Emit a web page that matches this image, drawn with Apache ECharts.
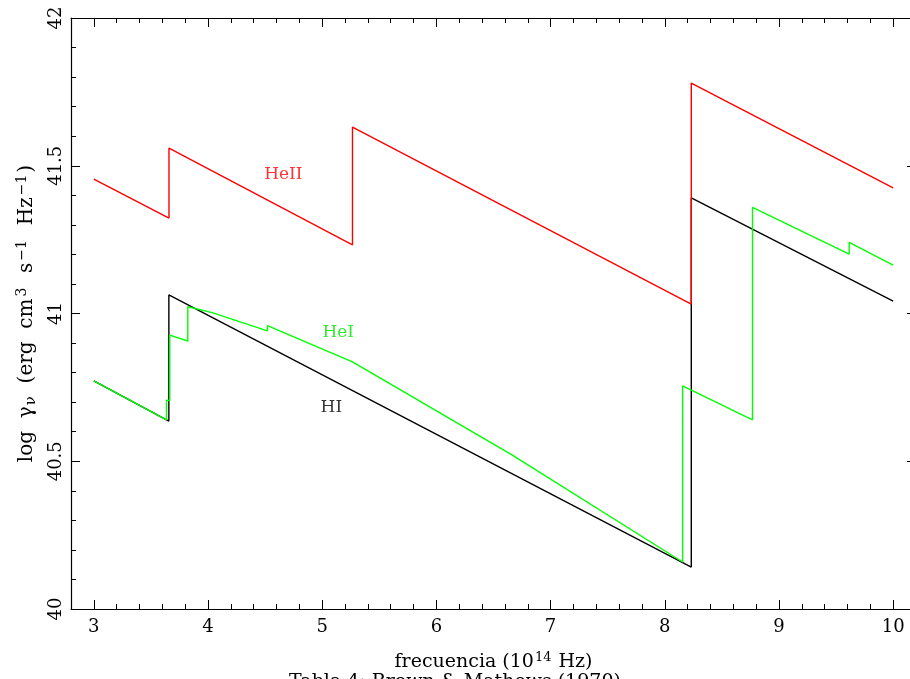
<!DOCTYPE html>
<html>
<head>
<meta charset="utf-8">
<script src="https://cdn.jsdelivr.net/npm/echarts@6/dist/echarts.min.js"></script>
<style>html,body{margin:0;padding:0;background:#fff}#c{width:910px;height:679px}</style>
</head>
<body>
<div id="c"></div>
<script>
// HI (black)
const hiX = [3, 3.657, 3.657, 8.232, 8.232, 10];
const hiY = [40.772, 40.636, 41.063, 40.142, 41.391, 41.042];
// HeI (green)
const heiX = [3, 3.636, 3.636, 3.665, 3.665, 3.823, 3.823, 4.036, 4.036, 4.52, 4.52, 5.265, 6.665, 8.156, 8.156, 8.768, 8.768, 9.615, 9.615, 10];
const heiY = [40.772, 40.640, 40.707, 40.705, 40.927, 40.907, 41.023, 41.003, 41.008, 40.941, 40.959, 40.836, 40.521, 40.159, 40.755, 40.640, 41.359, 41.201, 41.241, 41.164];
// HeII (red)
const heiiX = [3, 3.658, 3.658, 5.265, 5.265, 8.232, 8.232, 10];
const heiiY = [41.455, 41.323, 41.560, 41.232, 41.631, 41.032, 41.780, 41.425];

const xTicks = [3, 4, 5, 6, 7, 8, 9, 10];
const xMin = 2.8, xMax = 10.2;
const yMin = 40, yMax = 42;

const labelNames = ['HeII', 'HeI', 'HI'];
const labelX = [4.66, 5.14, 5.08];
const labelY = [41.469, 40.934, 40.68];
const labelColors = ['#ff0000', '#00e600', '#000000'];

const xMinor = [];
for (let i = 0; i <= 37; i++) xMinor.push(Math.round((xMin + i * 0.2) * 10) / 10);

const zip = (xs, ys) => xs.map((x, i) => [x, ys[i]]);
const FONT = 'DejaVu Serif';

const chart = echarts.init(document.getElementById('c'), null, {renderer: 'canvas'});
const lineStyle = (c) => ({color: c, width: 1.4});
const axisLine = {show: true, lineStyle: {color: '#000', width: 1.2}};

function xAxisDef(pos, major, withLabels) {
  return {
    type: 'value', min: xMin, max: xMax, position: pos, gridIndex: 0,
    axisLine: major ? axisLine : {show: false},
    axisTick: {show: true, inside: true, length: major ? 9 : 5, customValues: major ? xTicks : xMinor,
      lineStyle: {color: '#000', width: 1}},
    axisLabel: withLabels ? {show: true, customValues: xTicks, margin: 9, color: '#000', fontFamily: FONT, fontSize: 18} : {show: false},
    splitLine: {show: false},
    name: withLabels ? '{n|frecuencia (10}{s|14}{n| Hz)}' : '',
    nameLocation: 'middle', nameGap: 42,
    nameTextStyle: {rich: {
      n: {fontFamily: FONT, fontSize: 19, color: '#000'},
      s: {fontFamily: FONT, fontSize: 13, color: '#000', verticalAlign: 'top', padding: [0, 1, 10, 1]}
    }}
  };
}

function yAxisDef(pos, withLabels) {
  return {
    type: 'value', min: yMin, max: yMax, interval: 0.5, position: pos,
    axisLine: axisLine,
    axisTick: {show: true, inside: true, length: 9, lineStyle: {color: '#000', width: 1}},
    minorTick: {show: true, splitNumber: 5, length: 5, lineStyle: {color: '#000', width: 1}},
    axisLabel: withLabels ? {show: true, rotate: 90, margin: 6, color: '#000', fontFamily: FONT, fontSize: 18} : {show: false},
    splitLine: {show: false},
    name: withLabels ? '{n|log  γ}{b|ν}{n|  (erg  cm}{s|3}{n|  s}{s|−1}{n|  Hz}{s|−1}{n|)}' : '',
    nameLocation: 'middle', nameGap: 31,
    nameTextStyle: {rich: {
      n: {fontFamily: FONT, fontSize: 20, color: '#000'},
      s: {fontFamily: FONT, fontSize: 14, color: '#000', verticalAlign: 'top', padding: [0, 2, 10, 2]},
      b: {fontFamily: FONT, fontSize: 15, color: '#000', verticalAlign: 'bottom', padding: [8, 0, 0, 1]}
    }}
  };
}

chart.setOption({
  animation: false,
  backgroundColor: '#fff',
  grid: {left: 71, width: 845, top: 18, height: 591, outerBoundsMode: 'none', containLabel: false},
  xAxis: [
    xAxisDef('bottom', true, true),
    xAxisDef('bottom', false, false),
    xAxisDef('top', true, false),
    xAxisDef('top', false, false)
  ],
  yAxis: [yAxisDef('left', true), yAxisDef('right', false)],
  series: [
    {type: 'line', name: 'HI', data: zip(hiX, hiY), showSymbol: false, lineStyle: lineStyle('#000000'), z: 2},
    {type: 'line', name: 'HeI', data: zip(heiX, heiY), showSymbol: false, lineStyle: lineStyle('#00ff00'), z: 3},
    {type: 'line', name: 'HeII', data: zip(heiiX, heiiY), showSymbol: false, lineStyle: lineStyle('#ff0000'), z: 4},
    {type: 'scatter', name: 'labels', symbolSize: 0, z: 5,
      data: labelNames.map((n, i) => ({value: [labelX[i], labelY[i]], name: n,
        label: {show: true, position: 'inside', formatter: n, color: labelColors[i], fontFamily: FONT, fontSize: 17}}))}
  ],
  graphic: [
    {type: 'text', left: 'center', top: 673, style: {text: 'Tabla 4: Brown & Mathews (1970)', font: '19px "DejaVu Serif"', fill: '#000'}}
  ]
});
</script>
</body>
</html>
